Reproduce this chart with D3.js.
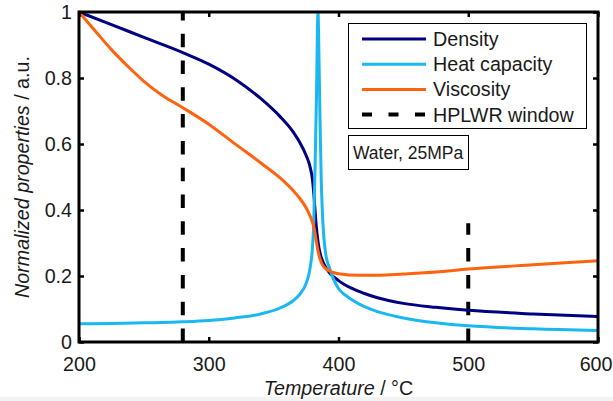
<!DOCTYPE html>
<html>
<head>
<meta charset="UTF-8"/>
<script src="https://d3js.org/d3.v7.min.js"></script>
<style>
    body { margin: 0; background: #fff; }
    svg { font-family: "Liberation Sans", Arial, sans-serif; }
    .curve { fill: none; stroke-width: 3; }
    .window { stroke: #000; stroke-width: 4; stroke-dasharray: 13.5,13.3; }
</style>
</head>
<body>
<svg id="main" width="613" height="401"></svg>
<script>
    // values, normalized (a.u.)
    var densityT = [200, 225, 250, 280, 300, 320, 340, 355, 365, 370, 375, 378, 380, 381, 382, 383, 384, 384.5, 385, 386, 387, 388, 390, 393, 400, 410, 420, 430, 450, 475, 500, 550, 600]
    var density  = [1, 0.962, 0.923, 0.877, 0.842, 0.797, 0.738, 0.683, 0.637, 0.606, 0.566, 0.532, 0.49, 0.448, 0.395, 0.345, 0.31, 0.296, 0.284, 0.266, 0.253, 0.243, 0.227, 0.21, 0.186, 0.163, 0.147, 0.134, 0.117, 0.105, 0.096, 0.085, 0.077]

    var heatT = [200, 225, 250, 280, 300, 320, 340, 355, 365, 370, 375, 378, 380, 381, 381.5, 382, 383, 384.2, 385, 386, 386.7, 387.5, 388, 390, 393, 400, 406, 410, 420, 430, 450, 475, 500, 550, 600]
    var heatCap = [0.055, 0.056, 0.058, 0.061, 0.065, 0.073, 0.085, 0.103, 0.125, 0.144, 0.177, 0.222, 0.29, 0.37, 0.46, 0.54, 0.74, 1, 0.85, 0.62, 0.49, 0.4, 0.36, 0.27, 0.225, 0.162, 0.14, 0.129, 0.107, 0.092, 0.073, 0.058, 0.049, 0.04, 0.035]

    var viscT = [200, 212, 225, 238, 250, 264, 280, 300, 320, 340, 355, 365, 370, 375, 378, 380, 381, 382, 383, 384, 385, 386, 387, 388, 390, 395, 400, 416, 430, 450, 475, 500, 550, 600]
    var viscosity = [1, 0.945, 0.886, 0.834, 0.79, 0.748, 0.71, 0.66, 0.601, 0.543, 0.497, 0.459, 0.436, 0.407, 0.383, 0.362, 0.348, 0.328, 0.303, 0.28, 0.262, 0.249, 0.239, 0.232, 0.223, 0.212, 0.207, 0.202, 0.202, 0.206, 0.212, 0.221, 0.234, 0.246]

    var windowT = [280, 500]
    var windowTop = [1, 0.36]

    var xTicks = [200, 300, 400, 500, 600]
    var yTicks = [0, 0.2, 0.4, 0.6, 0.8, 1]

    var seriesNames = ['Density', 'Heat capacity', 'Viscosity', 'HPLWR window']
    var seriesColors = ['#000080', '#1ab8f0', '#ff6310', '#000']

    var svg = d3.select('#main')
    var x = d3.scaleLinear().domain([200, 600]).range([79, 598])
    var y = d3.scaleLinear().domain([0, 1]).range([342, 12])
    var ink = '#1a1a1a'

    // faint strip at the very bottom of the original screenshot
    svg.append('rect').attr('x', 0).attr('y', 397).attr('width', 613).attr('height', 4).attr('fill', '#f3f3f3')

    var line = d3.line()
        .x(function(d){ return x(d[0]) })
        .y(function(d){ return y(d[1]) })
        .curve(d3.curveMonotoneX)

    var plot = svg.append('g')

    // HPLWR window, dashes start at the bottom
    plot.selectAll('line.window')
        .data(windowT)
        .enter().append('line')
        .classed('window', true)
        .attr('x1', function(d){ return x(d) })
        .attr('x2', function(d){ return x(d) })
        .attr('y1', y(0))
        .attr('y2', function(d, i){ return y(windowTop[i]) })

    var curves = [
        d3.zip(densityT, density),
        d3.zip(heatT, heatCap),
        d3.zip(viscT, viscosity)
    ]
    plot.selectAll('path.curve')
        .data(curves)
        .enter().append('path')
        .classed('curve', true)
        .attr('d', line)
        .style('stroke', function(d, i){ return seriesColors[i] })

    // axes, ticks pointing in like matlab
    var fs = '19.7px'
    var bottom = svg.append('g')
        .attr('transform', 'translate(0,' + y(0) + ')')
        .call(d3.axisBottom(x).tickValues(xTicks).tickSizeInner(-5).tickSizeOuter(0).tickPadding(15))
    var top = svg.append('g')
        .attr('transform', 'translate(0,' + y(1) + ')')
        .call(d3.axisTop(x).tickValues(xTicks).tickSizeInner(-5).tickSizeOuter(0).tickFormat(''))
    var left = svg.append('g')
        .attr('transform', 'translate(' + x(200) + ',0)')
        .call(d3.axisLeft(y).tickValues(yTicks).tickSizeInner(-5).tickSizeOuter(0).tickPadding(7).tickFormat(d3.format('')))
    var right = svg.append('g')
        .attr('transform', 'translate(' + x(600) + ',0)')
        .call(d3.axisRight(y).tickValues(yTicks).tickSizeInner(-5).tickSizeOuter(0).tickFormat(''))

    svg.selectAll('.domain').remove()
    svg.selectAll('.tick line').attr('stroke', '#000').attr('stroke-width', 2.5)
    svg.selectAll('.tick text')
        .attr('font-size', fs)
        .attr('font-family', '"Liberation Sans", Arial, sans-serif')
        .attr('fill', ink)
    // last label sits against the right edge, as in the original
    bottom.selectAll('.tick text').filter(function(d){ return d == 600 })
        .attr('text-anchor', 'end').attr('x', 612 - x(600))

    svg.append('rect')
        .attr('x', x(200)).attr('y', y(1))
        .attr('width', x(600) - x(200)).attr('height', y(0) - y(1))
        .attr('fill', 'none').attr('stroke', '#000').attr('stroke-width', 3)

    // axis labels
    var xl = svg.append('text')
        .attr('x', (x(200) + x(600)) / 2)
        .attr('y', 395)
        .attr('text-anchor', 'middle')
        .attr('font-size', fs)
        .attr('fill', ink)
    xl.append('tspan').attr('font-style', 'italic').text('Temperature')
    xl.append('tspan').text(' / °C')

    var yl = svg.append('text')
        .attr('transform', 'translate(29,' + ((y(0) + y(1)) / 2) + ') rotate(-90)')
        .attr('text-anchor', 'middle')
        .attr('font-size', fs)
        .attr('fill', ink)
    yl.append('tspan').attr('font-style', 'italic').text('Normalized properties')
    yl.append('tspan').text(' / a.u.')

    // legend
    var legend = svg.append('g')
    legend.append('rect')
        .attr('x', 348.5).attr('y', 23.5).attr('width', 238).attr('height', 105)
        .attr('fill', '#fff').attr('stroke', '#000').attr('stroke-width', 1)
    var rows = legend.selectAll('g.row')
        .data(seriesNames)
        .enter().append('g')
        .attr('transform', function(d, i){ return 'translate(0,' + (39 + i * 25.2) + ')' })
    rows.append('line')
        .attr('x1', 362).attr('x2', 426)
        .attr('stroke', function(d, i){ return seriesColors[i] })
        .attr('stroke-width', function(d, i){ return i == 3 ? 4 : 3 })
        .attr('stroke-dasharray', function(d, i){ return i == 3 ? '10,16.5' : null })
    rows.append('text')
        .attr('x', 433).attr('y', 7)
        .attr('font-size', fs)
        .attr('fill', ink)
        .text(function(d){ return d })

    // fluid annotation
    svg.append('rect')
        .attr('x', 348.5).attr('y', 135.5).attr('width', 120).attr('height', 34)
        .attr('fill', '#fff').attr('stroke', '#000').attr('stroke-width', 1)
    svg.append('text')
        .attr('x', 353).attr('y', 159)
        .attr('font-size', '17.5px')
        .attr('fill', ink)
        .text('Water, 25MPa')
</script>
</body>
</html>
